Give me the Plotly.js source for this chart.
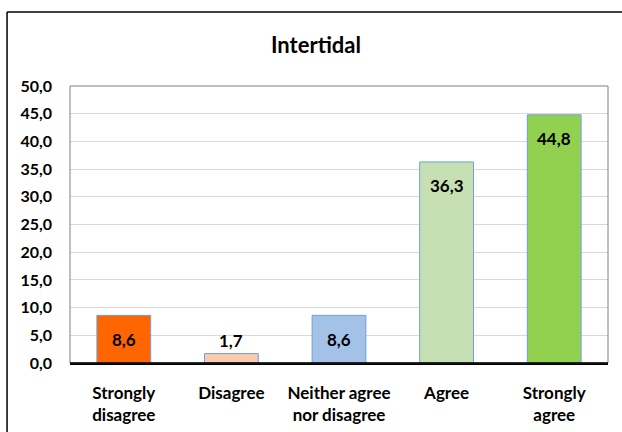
<!DOCTYPE html>
<html>
<head>
<meta charset="utf-8">
<script src="https://cdn.plot.ly/plotly-3.0.1.min.js"></script>
<style>
html,body{margin:0;padding:0;background:#fff;}
#chart{width:622px;height:432px;}
</style>
</head>
<body>
<div id="chart"></div>
<script>
const categories = ["Strongly<br>disagree", "Disagree", "Neither agree<br>nor disagree", "Agree", "Strongly<br>agree"];
const values = [8.6, 1.7, 8.6, 36.3, 44.8];
const valueLabels = ["8,6", "1,7", "8,6", "36,3", "44,8"];
const barColors = ["#FF6600", "#F8CBAD", "#A4C2E8", "#C6E0B4", "#92D050"];
const yTickVals = [0, 5, 10, 15, 20, 25, 30, 35, 40, 45, 50];
const yTickText = ["0,0", "5,0", "10,0", "15,0", "20,0", "25,0", "30,0", "35,0", "40,0", "45,0", "50,0"];
const labelFits = [true, false, true, true, true];

const FONT = "Lato, 'Open Sans', sans-serif";

const trace = {
  type: "bar",
  x: categories,
  y: values,
  marker: {color: barColors, line: {color: "#6FA0D8", width: 1}},
  hoverinfo: "skip"
};

const annotations = values.map((v, i) => ({
  x: categories[i],
  y: v,
  xref: "x",
  yref: "y",
  text: "<b>" + valueLabels[i] + "</b>",
  showarrow: false,
  yanchor: "middle",
  yshift: labelFits[i] ? -24 : 13,
  font: {family: FONT, size: 17, color: "#000"}
}));

const layout = {
  width: 622,
  height: 432,
  margin: {l: 70, r: 14, t: 86, b: 69},
  paper_bgcolor: "#fff",
  plot_bgcolor: "#fff",
  showlegend: false,
  bargap: 0.5,
  title: {
    text: "<b>Intertidal</b>",
    font: {family: FONT, size: 22, color: "#000"},
    x: 0.508, xanchor: "center",
    y: 1 - 45/432, yanchor: "middle", yref: "container"
  },
  xaxis: {
    type: "category",
    showgrid: false,
    showline: true,
    linecolor: "#000",
    linewidth: 1.5,
    ticks: "",
    tickfont: {family: FONT, size: 17, color: "#000", weight: "bold"},
    ticklabelstandoff: 14,
    fixedrange: true
  },
  yaxis: {
    range: [0, 50],
    tickvals: yTickVals,
    ticktext: yTickText,
    showgrid: true,
    gridcolor: "#D9D9D9",
    gridwidth: 1,
    zeroline: false,
    showline: false,
    ticks: "",
    tickfont: {family: FONT, size: 16, color: "#000", weight: "bold"},
    ticklabelstandoff: 17,
    fixedrange: true
  },
  annotations: annotations,
  shapes: [
    {type: "rect", xref: "paper", yref: "paper", x0: 0, x1: 1, y0: 0, y1: 1,
     line: {color: "#808080", width: 1}, layer: "above"},
    {type: "line", xref: "paper", yref: "paper", x0: -0.117, x1: -0.117, y0: -0.3, y1: 1.267,
     line: {color: "#000", width: 1.5}},
    {type: "line", xref: "paper", yref: "paper", x0: -0.117, x1: 1.05, y0: 1.267, y1: 1.267,
     line: {color: "#000", width: 1.5}},
    {type: "line", xref: "paper", yref: "paper", x0: 0, x1: 1, y0: 0, y1: 0,
     line: {color: "#000", width: 1.5}, layer: "above"}
  ]
};

Plotly.newPlot("chart", [trace], layout, {displayModeBar: false, staticPlot: true});
</script>
</body>
</html>
